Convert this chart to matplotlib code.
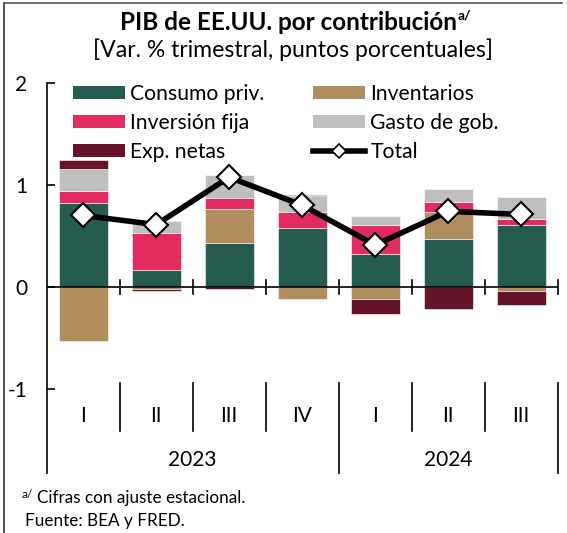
import matplotlib
matplotlib.use("Agg")
import matplotlib.pyplot as plt
from matplotlib.lines import Line2D
from matplotlib.patches import Patch

plt.rcParams["font.family"] = ["Lato", "DejaVu Sans"]

# contribuciones al PIB (puntos porcentuales)
quarters = ["I", "II", "III", "IV", "I", "II", "III"]
years = ["2023", "2024"]
consumo = [0.82, 0.16, 0.425, 0.58, 0.32, 0.47, 0.61]
inventarios = [-0.53, -0.02, 0.335, -0.12, -0.12, 0.26, -0.04]
inversion = [0.12, 0.37, 0.11, 0.15, 0.29, 0.10, 0.055]
gasto = [0.22, 0.12, 0.23, 0.165, 0.08, 0.13, 0.22]
exp_netas = [0.08, -0.02, -0.02, 0.01, -0.15, -0.22, -0.14]
total = [0.70, 0.61, 1.075, 0.80, 0.41, 0.74, 0.71]

series = [
    ("Consumo priv.", consumo, "#265C4F"),
    ("Inventarios", inventarios, "#B08D5C"),
    ("Inversión fija", inversion, "#E22B5E"),
    ("Gasto de gob.", gasto, "#BFBFBF"),
    ("Exp. netas", exp_netas, "#641329"),
]

W, H = 567, 533
fig = plt.figure(figsize=(W / 100, H / 100), dpi=100)
ymin, ymax = -1.828, 2.0
ax = fig.add_axes([46.7 / W, 1 - 473 / H, (557.7 - 46.7) / W, (473 - 83) / H])
ax.set_xlim(-0.5, 6.5)
ax.set_ylim(ymin, ymax)

x = list(range(len(quarters)))
pos = [0.0] * len(x)
neg = [0.0] * len(x)
for name, vals, color in series:
    bottoms = [pos[i] if v >= 0 else neg[i] for i, v in enumerate(vals)]
    ax.bar(x, vals, bottom=bottoms, width=0.67, color=color,
           edgecolor="white", linewidth=0.4, zorder=2)
    for i, v in enumerate(vals):
        if v >= 0:
            pos[i] += v
        else:
            neg[i] += v

ax.plot(x, total, color="black", lw=4, marker="D", markersize=12,
        markerfacecolor="white", markeredgecolor="black", markeredgewidth=1.5, zorder=4)

# ejes
for s in ["top", "right", "bottom"]:
    ax.spines[s].set_visible(False)
ax.spines["left"].set_linewidth(1.2)
ax.set_yticks([2, 1, 0, -1])
ax.set_yticklabels(["2", "1", "0", "-1"])
ax.tick_params(axis="y", direction="in", length=6, width=1.2, labelsize=15, pad=14)
ax.set_xticks([])
ax.axhline(0, color="black", lw=1.2, zorder=3)

for b in [0.5, 1.5, 2.5, 3.5, 4.5, 5.5, 6.5]:
    ax.plot([b, b], [-0.07, 0.07], color="black", lw=1.2, zorder=3, clip_on=False)
    if b in (3.5, 6.5):
        ax.plot([b, b], [-0.94, ymin], color="black", lw=1.2, clip_on=False)
    else:
        ax.plot([b, b], [-0.94, -1.42], color="black", lw=1.2, clip_on=False)

for i, q in enumerate(quarters):
    ax.text(i, -1.27, q, ha="center", va="center", fontsize=15)
ax.text(1.5, -1.70, years[0], ha="center", va="center", fontsize=15)
ax.text(5.0, -1.70, years[1], ha="center", va="center", fontsize=15)

# leyenda
h = {name: Patch(facecolor=color, edgecolor="none") for name, _, color in series}
tot = Line2D([0], [0], color="black", lw=4, marker="D", markersize=7,
             markerfacecolor="white", markeredgecolor="black", markeredgewidth=1.2)
handles = [h["Consumo priv."], h["Inversión fija"], h["Exp. netas"],
           h["Inventarios"], h["Gasto de gob."], tot]
labels = ["Consumo priv.", "Inversión fija", "Exp. netas",
          "Inventarios", "Gasto de gob.", "Total"]
ax.legend(handles, labels, ncol=2, loc="upper left", bbox_to_anchor=(0.03, 1.025),
          frameon=False, fontsize=15.2, handlelength=2.47, handleheight=0.57,
          handletextpad=0.25, labelspacing=0.42, columnspacing=2.3, borderpad=0)

# títulos y notas
title = fig.text(288 / W, 1 - 22 / H, "PIB de EE.UU. por contribución", ha="center",
                 va="center", fontsize=17.5, fontweight="bold")
bb = title.get_window_extent(renderer=fig.canvas.get_renderer())
fig.text((bb.x1 + 1) / W, 1 - 15 / H, "a/", ha="left", va="center", fontsize=10,
         fontweight="bold")
fig.text(293 / W, 1 - 50 / H, "[Var. % trimestral, puntos porcentuales]", ha="center",
         va="center", fontsize=16.6)
fig.text(22 / W, 1 - 495 / H, "a/", ha="left", va="center", fontsize=8.5)
fig.text(37 / W, 1 - 498 / H, "Cifras con ajuste estacional.", ha="left", va="center",
         fontsize=12.3)
fig.text(25 / W, 1 - 521 / H, "Fuente: BEA y FRED.", ha="left", va="center", fontsize=12.3)

# marco
fig.add_artist(Line2D([4 / W, 4 / W], [0, 1 - 3 / H], color="#333333", lw=1.2))
fig.add_artist(Line2D([4 / W, 562 / W], [1 - 3 / H, 1 - 3 / H], color="#555555", lw=1.2))

fig.savefig("out.png", dpi=100)
